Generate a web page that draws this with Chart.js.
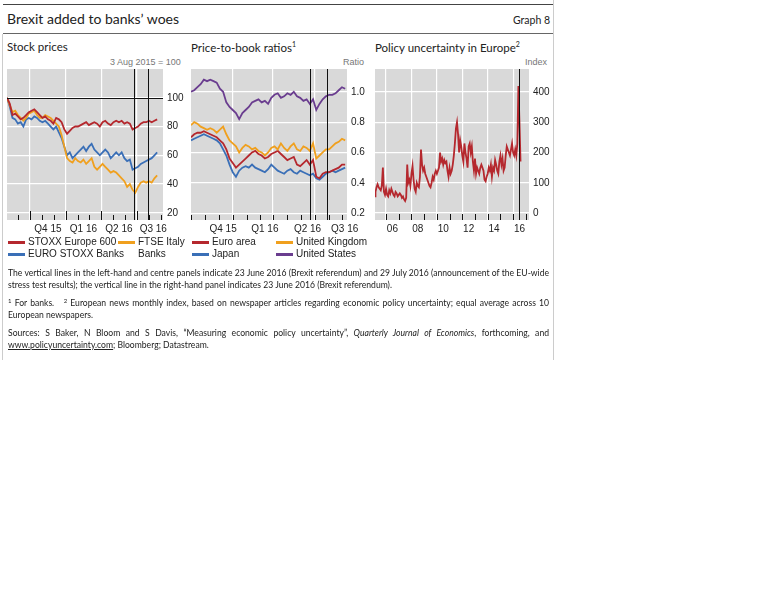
<!DOCTYPE html>
<html><head><meta charset="utf-8">
<script src="https://cdn.jsdelivr.net/npm/chart.js@4"></script>
<style>
body{margin:0;background:#fff;width:768px;height:614px;position:relative;font-family:"Liberation Sans",Arial,sans-serif;overflow:hidden}
.a{position:absolute;white-space:nowrap}
.t{font-family:Lato,"Open Sans",sans-serif;color:#222}
.lg{position:absolute;font-size:10px;color:#222;line-height:12px}
.lg i{position:absolute;width:17px;height:3px;top:5px}
.note{position:absolute;left:8px;width:541px;font-family:Lato,sans-serif;font-size:8.6px;color:#222;line-height:11.5px;text-align:justify}
.note sup{font-size:6px;line-height:0;vertical-align:3px}
canvas{position:absolute}
</style></head><body>
<div class="a" style="left:3px;top:4px;width:550px;border-top:1px solid #444"></div>
<div class="a" style="left:3px;top:33px;width:550px;border-top:1px solid #666"></div>
<div class="a" style="left:553px;top:0;height:360px;border-left:1px solid #ccc"></div>
<div class="a" style="left:2px;top:34px;height:326px;border-left:1px solid #ccc"></div>
<div class="a t" style="left:7px;top:10px;font-size:14px">Brexit added to banks’ woes</div>
<div class="a t" style="left:513px;top:14px;font-size:10.5px">Graph 8</div>
<div class="a t" style="left:7px;top:40px;font-size:11.5px">Stock prices</div>
<div class="a t" style="left:191px;top:40px;font-size:11.5px">Price-to-book ratios<sup style="font-size:7px">1</sup></div>
<div class="a t" style="left:375px;top:40px;font-size:11.5px">Policy uncertainty in Europe<sup style="font-size:7px">2</sup></div>
<div class="a" style="left:110px;top:57px;font-size:9px;color:#777">3 Aug 2015 = 100</div>
<div class="a" style="left:343px;top:57px;font-size:9px;color:#777">Ratio</div>
<div class="a" style="left:525px;top:57px;font-size:9px;color:#777">Index</div>
<canvas id="c1"></canvas><canvas id="c2"></canvas><canvas id="c3"></canvas>
<div class="lg" style="left:28px;top:236px"><i style="left:-20px;background:#b5282e"></i>STOXX Europe 600</div>
<div class="lg" style="left:28px;top:248px"><i style="left:-20px;background:#3a6fb7"></i>EURO STOXX Banks</div>
<div class="lg" style="left:138px;top:236px"><i style="left:-20px;background:#f0a01e"></i>FTSE Italy<br>Banks</div>
<div class="lg" style="left:212px;top:236px"><i style="left:-20px;background:#b5282e"></i>Euro area</div>
<div class="lg" style="left:212px;top:248px"><i style="left:-20px;background:#3a6fb7"></i>Japan</div>
<div class="lg" style="left:296px;top:236px"><i style="left:-20px;background:#f0a01e"></i>United Kingdom</div>
<div class="lg" style="left:296px;top:248px"><i style="left:-20px;background:#6a3d8f"></i>United States</div>
<div class="note" style="top:268px">The vertical lines in the left-hand and centre panels indicate 23 June 2016 (Brexit referendum) and 29 July 2016 (announcement of the EU-wide stress test results); the vertical line in the right-hand panel indicates 23 June 2016 (Brexit referendum).</div>
<div class="note" style="top:298px"><sup>1</sup> For banks.&nbsp;&nbsp; <sup>2</sup> European news monthly index, based on newspaper articles regarding economic policy uncertainty; equal average across 10 European newspapers.</div>
<div class="note" style="top:328px">Sources: S Baker, N Bloom and S Davis, “Measuring economic policy uncertainty”, <i>Quarterly Journal of Economics</i>, forthcoming, and <u>www.policyuncertainty.com</u>; Bloomberg; Datastream.</div>
<script>
// ---- Data ----
const stoxx600 = [100,96,88,89,87,85,86,88,90,91,92,90,88,86,87,85,84,82,86,85,83,78,75,77,79,80,80,81,82,83,81,82,83,82,80,83,84,82,81,83,84,83,84,82,83,82,78,79,80,82,83,83,84,83,84,85];
const euroStoxxBanks = [100,94,86,85,82,83,80,85,86,85,87,86,84,83,84,82,80,78,80,76,72,66,60,62,58,60,62,64,66,63,66,68,64,62,60,62,64,62,58,60,62,60,62,58,56,57,50,51,52,54,55,56,57,58,60,62];
const ftseItalyBanks = [100,95,90,91,88,86,84,86,89,90,91,88,86,86,88,87,86,84,82,80,74,66,58,56,55,58,56,55,57,54,56,58,52,50,52,54,52,50,48,49,48,46,44,42,38,40,36,34,38,41,42,41,42,41,44,46];
const pbUS = [1.00,1.01,1.03,1.05,1.08,1.07,1.08,1.07,1.06,1.02,1.00,0.93,0.90,0.88,0.86,0.82,0.86,0.88,0.90,0.93,0.94,0.95,0.93,0.94,0.92,0.96,0.98,0.99,0.96,0.97,0.99,0.98,1.00,0.97,0.96,0.94,0.95,0.92,0.95,0.88,0.92,0.95,0.97,0.98,0.98,0.99,1.01,1.03,1.02];
const pbUK = [0.78,0.80,0.79,0.77,0.76,0.75,0.76,0.75,0.73,0.75,0.77,0.72,0.68,0.66,0.64,0.60,0.63,0.65,0.64,0.62,0.63,0.61,0.60,0.58,0.60,0.63,0.64,0.62,0.66,0.63,0.61,0.64,0.66,0.62,0.61,0.64,0.63,0.61,0.66,0.56,0.58,0.60,0.62,0.62,0.64,0.66,0.67,0.69,0.68];
const pbEA = [0.70,0.72,0.73,0.73,0.74,0.73,0.72,0.71,0.70,0.68,0.66,0.62,0.56,0.53,0.50,0.52,0.54,0.56,0.58,0.60,0.61,0.59,0.58,0.56,0.57,0.59,0.60,0.61,0.59,0.57,0.55,0.56,0.57,0.52,0.51,0.53,0.55,0.52,0.55,0.44,0.43,0.46,0.47,0.47,0.48,0.49,0.50,0.52,0.52];
const pbJP = [0.68,0.69,0.70,0.71,0.72,0.71,0.70,0.69,0.68,0.66,0.62,0.58,0.52,0.47,0.44,0.48,0.50,0.51,0.50,0.52,0.50,0.49,0.48,0.47,0.49,0.52,0.50,0.48,0.47,0.46,0.48,0.49,0.47,0.46,0.48,0.47,0.46,0.45,0.46,0.43,0.42,0.44,0.46,0.47,0.48,0.47,0.48,0.49,0.50];
const epuYears = [2005,2006,2007,2008,2009,2010,2011,2012,2013,2014,2015,2016];
const epu = [
 [45,55,70,85,95,85,80,75,90,150,70,60],
 [80,60,55,75,65,80,70,60,55,70,65,55],
 [60,65,60,50,55,45,40,50,160,100,110,90],
 [130,155,110,80,70,100,90,85,120,210,160,140],
 [150,130,120,110,100,90,85,100,120,110,130,140],
 [130,140,150,200,170,180,160,175,165,170,140,120],
 [150,130,140,160,190,230,280,300,260,200,240,220],
 [190,170,230,200,180,150,220,230,200,220,170,140],
 [180,130,150,140,130,150,160,150,140,110,105,120],
 [130,150,140,160,120,150,140,175,160,140,130,170],
 [190,160,180,140,150,190,220,210,200,190,210,230],
 [200,190,210,190,230,420,300,170]
];
const q1Labels = ['Q4 15','Q1 16','Q2 16','Q3 16'];
const q1LabelDays = [105,196,287,375];
const q1GridDays = [59,151,242,333];
const q1MonthDays = [29,59,90,120,151,182,211,242,272,303,333,364,395];
const q1Events = [325,361];
const q2Labels = ['Q4 15','Q1 16','Q2 16','Q3 16'];
const q2LabelDays = [70,161,254,335];
const q2GridDays = [91,178,270];
const q2MonthDays = [0,30,61,91,121,150,178,209,239,270,300,330];
const q2Events = [259,296];
const q3Labels = ['06','08','10','12','14','16'];
const q3Events = [2016.47];

const RED='#b5282e',BLUE='#3a6fb7',ORANGE='#f0a01e',PURPLE='#6a3d8f';
const pts = (arr,step,off)=>arr.map((v,i)=>({x:off+i*step,y:v}));
const TOPX=10;

function make(id,left,top,w,h,datasets,xo,yo,extra){
  const c=document.getElementById(id);
  const W=w+24,H=h+TOPX+20;
  c.style.left=left+'px';c.style.top=(top-TOPX)+'px';c.width=W;c.height=H;
  c.style.width=W+'px';c.style.height=H+'px';
  const bg={id:'bg',beforeDraw(ch){const a=ch.chartArea,x=ch.ctx;x.save();x.fillStyle='#d9d9d9';x.fillRect(a.left,a.top,a.right-a.left,a.bottom-a.top);x.restore();},
    afterDatasetsDraw(ch){const a=ch.chartArea,x=ch.ctx,sx=ch.scales.x,sy=ch.scales.y;x.save();x.strokeStyle='#111';x.lineWidth=1;
      (extra.events||[]).forEach(d=>{const p=Math.round(sx.getPixelForValue(d))+0.5;x.beginPath();x.moveTo(p,a.top);x.lineTo(p,a.bottom);x.stroke();});
      (extra.ticks||[]).forEach(t=>{const p=Math.round(sx.getPixelForValue(t[0]))+0.5;x.beginPath();x.moveTo(p,a.bottom);x.lineTo(p,a.bottom-t[1]);x.stroke();});
      if(extra.hline!==undefined){const p=Math.round(sy.getPixelForValue(extra.hline))+0.5;x.beginPath();x.moveTo(a.left,p);x.lineTo(a.right,p);x.stroke();}
      x.restore();}};
  new Chart(c,{type:'line',data:{datasets:datasets.map(d=>({data:d.data,borderColor:d.c,borderWidth:1.8,pointRadius:0,tension:0,fill:false}))},
    options:{responsive:false,animation:false,layout:{autoPadding:false,padding:{top:TOPX,left:0,right:0,bottom:0}},plugins:{legend:{display:false},tooltip:{enabled:false}},
     scales:{
      x:Object.assign({type:'linear',border:{display:false},grid:{color:'#fff',lineWidth:1.2,drawTicks:false},
        ticks:{display:false},afterFit(s){s.height=0;}},xo),
      xl:{type:'linear',min:xo.min,max:xo.max,position:'bottom',border:{display:false},grid:{display:false,drawTicks:false},
        afterBuildTicks(s){s.ticks=extra.labelVals.map(v=>({value:v}));},
        ticks:{autoSkip:false,maxRotation:0,padding:3,color:'#222',font:{size:10,family:'Liberation Sans'},callback:(v,i)=>extra.labels[i]},
        afterFit(s){s.height=20;}},
      y:Object.assign({type:'linear',position:'right',border:{display:false},grid:{color:'#fff',lineWidth:1.2,drawTicks:false},afterFit(s){s.width=24;}},yo)
     }},plugins:[bg]});
}
const yt={padding:4,color:'#222',font:{size:10,family:'Liberation Sans'}};
make('c1',7,69,156,151,[
  {data:pts(stoxx600,7,0),c:RED},{data:pts(ftseItalyBanks,7,0),c:ORANGE},{data:pts(euroStoxxBanks,7,0),c:BLUE}],
  {min:0,max:400,afterBuildTicks(s){s.ticks=q1GridDays.map(v=>({value:v}));}},
  {min:15,max:120,afterBuildTicks(s){s.ticks=[20,40,60,80,100].map(v=>({value:v}));},ticks:Object.assign({callback:v=>v},yt)},
  {labels:q1Labels,labelVals:q1LabelDays,events:q1Events,hline:100,ticks:q1MonthDays.map(d=>[d,q1GridDays.includes(d)?9:5])});
make('c2',191,69,156,151,[
  {data:pts(pbUS,7,0),c:PURPLE},{data:pts(pbUK,7,0),c:ORANGE},{data:pts(pbEA,7,0),c:RED},{data:pts(pbJP,7,0),c:BLUE}],
  {min:0,max:340,afterBuildTicks(s){s.ticks=q2GridDays.map(v=>({value:v}));}},
  {min:0.155,max:1.15,afterBuildTicks(s){s.ticks=[0.2,0.4,0.6,0.8,1.0].map(v=>({value:v}));},ticks:Object.assign({callback:v=>v.toFixed(1)},yt)},
  {labels:q2Labels,labelVals:q2LabelDays,events:q2Events,ticks:q2MonthDays.map(d=>[d,5])});
const epuPts=[];epu.forEach((yr,i)=>yr.forEach((v,m)=>epuPts.push({x:epuYears[i]+m/12,y:v})));
const yearTicks=[];for(let y=2006;y<=2017;y++)yearTicks.push(y);
make('c3',375,69,154,151,[{data:epuPts,c:RED}],
  {min:2005.13,max:2017.25,afterBuildTicks(s){s.ticks=[2006,2008,2010,2012,2014,2016].map(v=>({value:v}));}},
  {min:-23,max:476,afterBuildTicks(s){s.ticks=[0,100,200,300,400].map(v=>({value:v}));},ticks:Object.assign({callback:v=>v},yt)},
  {labels:q3Labels,labelVals:[2006.5,2008.5,2010.5,2012.5,2014.5,2016.5],events:q3Events,ticks:yearTicks.map(y=>[y,6])});
</script>
</body></html>
